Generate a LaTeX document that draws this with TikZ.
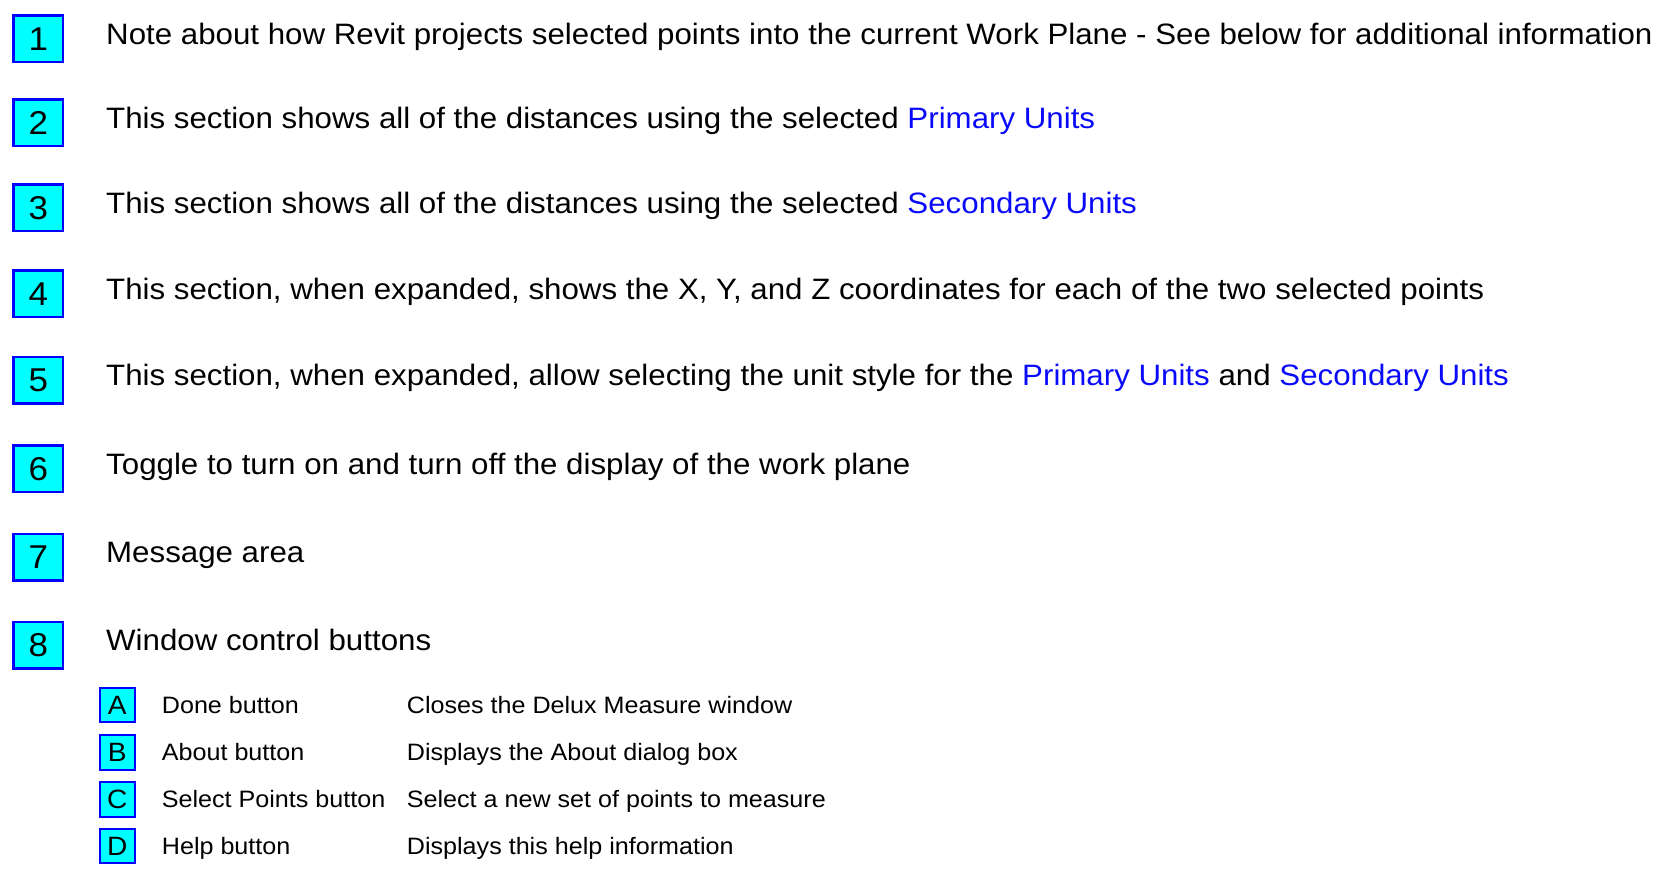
\documentclass[tikz,border=0pt]{standalone}
\usepackage{fontspec}
\setmainfont[FakeStretch=1.06]{Liberation Sans}
\definecolor{boxfill}{RGB}{0,255,255}
\definecolor{boxline}{RGB}{0,0,255}
\definecolor{unitblue}{RGB}{10,10,250}
\begin{document}
\begin{tikzpicture}[x=1pt, y=-1pt,
    numbox/.style={draw=boxline, fill=boxfill, line width=2.5pt, inner sep=0pt, minimum width=49.5pt, minimum height=46.5pt, font=\fontsize{33}{36}\selectfont},
    letbox/.style={draw=boxline, fill=boxfill, line width=2pt, inner sep=0pt, minimum width=34.5pt, minimum height=34.5pt, font=\fontsize{26.5}{29}\selectfont},
    note/.style={anchor=base west, inner sep=0pt, font=\fontsize{29.5}{32}\selectfont},
    subnote/.style={anchor=base west, inner sep=0pt, font=\fontsize{23.7}{26}\selectfont}]
    \useasboundingbox (0, 0) rectangle (1658, 872);

    \node[numbox] (b1) at (38.3, 38.8) {1};
    \node[numbox] (b2) at (38.3, 122.8) {2};
    \node[numbox] (b3) at (38.3, 207.8) {3};
    \node[numbox] (b4) at (38.3, 293.8) {4};
    \node[numbox] (b5) at (38.3, 380) {5};
    \node[numbox] (b6) at (38.3, 468.8) {6};
    \node[numbox] (b7) at (38.3, 557.2) {7};
    \node[numbox] (b8) at (38.3, 645) {8};

    \node[note] (t1) at (106, 44.8) {Note about how Revit projects selected points into the current Work Plane - See below for additional information};
    \node[note] (t2) at (106, 128.6) {This section shows all of the distances using the selected \textcolor{unitblue}{Primary Units}};
    \node[note] (t3) at (106, 213.6) {This section shows all of the distances using the selected \textcolor{unitblue}{Secondary Units}};
    \node[note] (t4) at (106, 299.6) {This section, when expanded, shows the X, Y, and Z coordinates for each of the two selected points};
    \node[note] (t5) at (106, 385.8) {This section, when expanded, allow selecting the unit style for the \textcolor{unitblue}{Primary Units} and \textcolor{unitblue}{Secondary Units}};
    \node[note] (t6) at (106, 474.6) {Toggle to turn on and turn off the display of the work plane};
    \node[note] (t7) at (106, 562.2) {Message area};
    \node[note] (t8) at (106, 650.8) {Window control buttons};

    \node[letbox] (ba) at (117.3, 705) {A};
    \node[letbox] (bb) at (117.3, 752.3) {B};
    \node[letbox] (bc) at (117.3, 799.3) {C};
    \node[letbox] (bd) at (117.3, 846) {D};

    \node[subnote] (na) at (161.7, 713.6) {Done button};
    \node[subnote] (nb) at (161.7, 760.9) {About button};
    \node[subnote] (nc) at (161.7, 807.9) {Select Points button};
    \node[subnote] (nd) at (161.7, 854.6) {Help button};

    \node[subnote] (da) at (406.7, 713.6) {Closes the Delux Measure window};
    \node[subnote] (db) at (406.7, 760.9) {Displays the About dialog box};
    \node[subnote] (dc) at (406.7, 807.9) {Select a new set of points to measure};
    \node[subnote] (dd) at (406.7, 854.6) {Displays this help information};
  \end{tikzpicture}
\end{document}
